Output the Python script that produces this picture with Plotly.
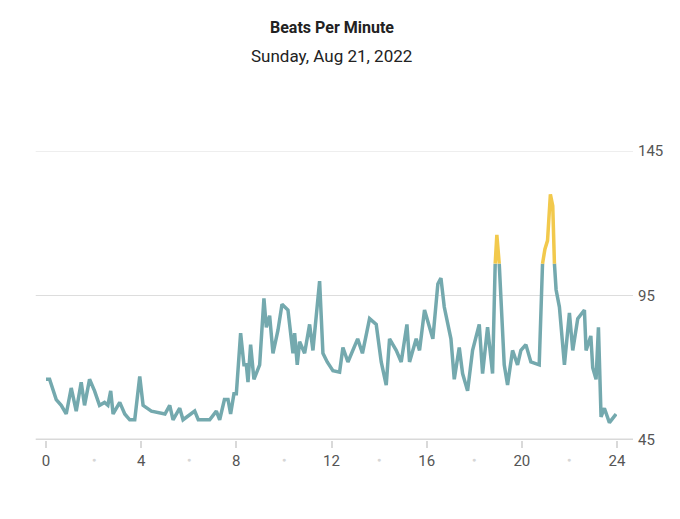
import numpy as np
import plotly.graph_objects as go

hours = [0.0, 0.15, 0.43, 0.64, 0.85, 1.06, 1.27, 1.48, 1.62, 1.83, 2.04, 2.25, 2.46, 2.6, 2.72,
         2.82, 3.1, 3.31, 3.52, 3.73, 3.94, 4.08, 4.43, 5.0, 5.2, 5.34, 5.62, 5.76, 6.25, 6.4,
         6.88, 7.16, 7.3, 7.5, 7.65, 7.76, 7.9, 8.0, 8.18, 8.32, 8.42, 8.49, 8.6, 8.74, 8.98,
         9.16, 9.26, 9.4, 9.54, 9.75, 9.92, 10.17, 10.38, 10.45, 10.56, 10.66, 10.87, 11.08,
         11.22, 11.5, 11.64, 11.82, 12.06, 12.34, 12.48, 12.69, 13.1, 13.3, 13.6, 13.88, 14.09,
         14.3, 14.44, 14.72, 14.93, 15.17, 15.28, 15.56, 15.7, 15.91, 16.26, 16.47, 16.6, 16.74,
         17.02, 17.16, 17.37, 17.51, 17.72, 17.93, 18.21, 18.35, 18.56, 18.77, 18.88, 18.95,
         19.05, 19.26, 19.4, 19.61, 19.82, 19.96, 20.17, 20.38, 20.73, 20.87, 20.97, 21.08,
         21.2, 21.3, 21.37, 21.44, 21.58, 21.79, 22.0, 22.14, 22.35, 22.63, 22.7, 22.9, 22.98,
         23.12, 23.22, 23.33, 23.47, 23.68, 23.96]
bpm = [66, 66, 59, 57, 54, 63, 55, 65, 57, 66, 62, 57, 58, 57, 62,
       54, 58, 54, 52, 52, 67, 57, 55, 54, 57, 52, 56, 52, 55, 52,
       52, 55, 52, 59, 59, 54, 61, 61, 82, 71, 71, 65, 78, 66, 71,
       94, 84, 88, 75, 83, 92, 90, 75, 82, 71, 79, 75, 85,
       76, 100, 75, 72, 69, 68.5, 77, 72, 80, 75, 87, 85, 72,
       64, 80, 76, 72, 85, 72, 80, 76, 90, 80, 99, 101, 91,
       80, 66, 77, 68, 62, 76, 85, 68, 84, 68, 106, 116,
       106, 71, 64, 76, 71, 76, 78, 72, 71, 106, 111, 114,
       130, 126, 106, 97, 91, 71, 89, 76, 87, 90, 76, 81, 70,
       66, 84, 53, 56, 51, 54]

threshold = 106
x_ticks = [0, 4, 8, 12, 16, 20, 24]
dot_hours = [2, 6, 10, 14, 18, 22]
y_ticks = [45, 95, 145]

teal = "#74a9ae"
yellow = "#f2c94c"

v = np.array(bpm, dtype=float)
low = np.where(v <= threshold, v, np.nan)
high = np.where(v >= threshold, v, np.nan)

fig = go.Figure()
fig.add_trace(go.Scatter(x=hours, y=low, mode="lines", connectgaps=False,
                         line=dict(color=teal, width=3.5)))
fig.add_trace(go.Scatter(x=hours, y=high, mode="lines", connectgaps=False,
                         line=dict(color=yellow, width=3.5)))

for h in dot_hours:
    fig.add_annotation(x=h, y=-0.09, xref="x", yref="paper", text="●", showarrow=False,
                       font=dict(size=7, color="#d6d6d6"))

fig.add_shape(type="line", xref="paper", yref="y", x0=-0.018, x1=1.028, y0=45, y1=45,
              line=dict(color="#d9d9d9", width=3), layer="below")
for yv in y_ticks[1:]:
    fig.add_shape(type="line", xref="paper", yref="y", x0=-0.018, x1=1.028, y0=yv, y1=yv,
                  line=dict(color="#dddddd", width=1), layer="below")

fig.add_annotation(text="<b>Beats Per Minute</b>", x=0.5, y=20, xref="paper", yref="paper",
                   showarrow=False, font=dict(size=16, color="#222"))
fig.add_annotation(text="Sunday, Aug 21, 2022", x=0.5, y=20, xref="paper", yref="paper",
                   showarrow=False, font=dict(size=17, color="#222"))

fig.update_layout(
    width=680, height=519,
    margin=dict(l=38, r=71, t=143, b=87, autoexpand=False),
    paper_bgcolor="white", plot_bgcolor="white",
    font=dict(family="Roboto", color="#333"),
    showlegend=False,
    xaxis=dict(range=[0, 24], tickvals=x_ticks, showgrid=False, zeroline=False,
               ticks="outside", ticklen=7, tickcolor="#d9d9d9", tickwidth=2,
               tickfont=dict(size=15, color="#555"), showline=False, automargin=False),
    yaxis=dict(range=[45, 145], tickvals=y_ticks, side="right", showgrid=False,
               zeroline=False, tickfont=dict(size=15, color="#555"), ticklabelstandoff=20,
               automargin=False),
)
# place the two title lines in paper coords (plot height 289 px)
fig.layout.annotations[-2].update(y=(519 - 87 - 20) / 289, yanchor="middle")
fig.layout.annotations[-1].update(y=(519 - 87 - 48) / 289, yanchor="middle")

fig.write_html("out.html")
